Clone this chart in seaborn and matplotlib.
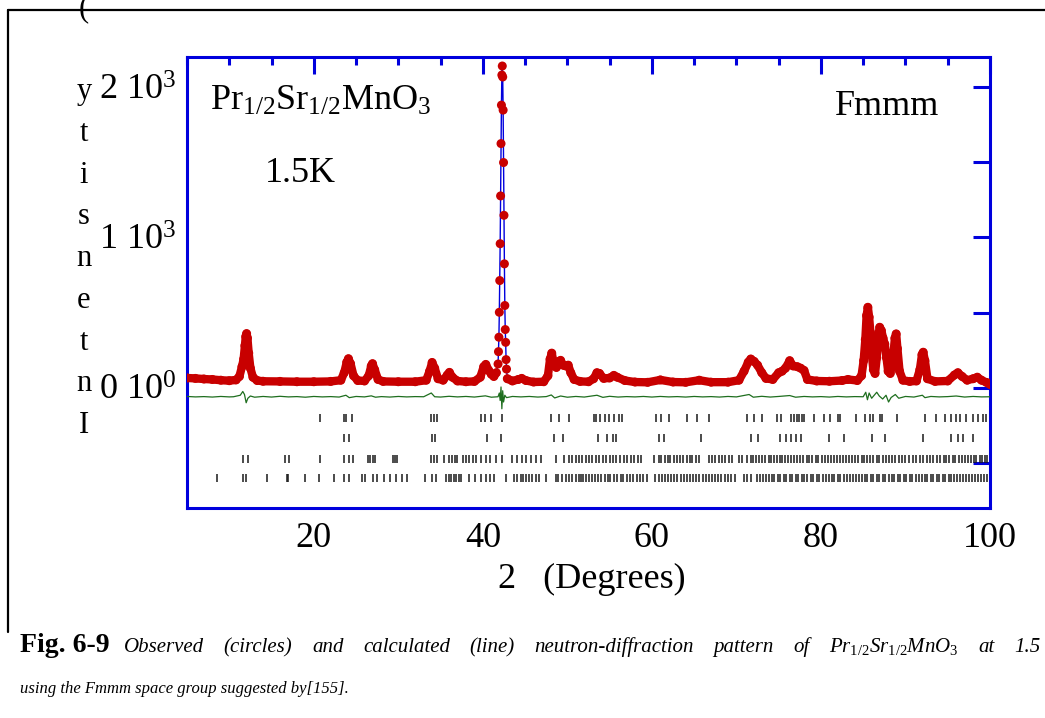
import numpy as np
import pandas as pd
import matplotlib
matplotlib.use('Agg')
import matplotlib.pyplot as plt
from matplotlib.lines import Line2D
from matplotlib.ticker import FixedLocator, FixedFormatter, MultipleLocator
import seaborn as sns

# observed pattern (2theta in degrees, counts)
two_theta = [5.0, 6.0, 7.0, 8.0, 9.0, 10.0, 10.8, 11.2, 11.5, 11.7, 11.85, 11.95, 12.05, 12.15, 12.3, 12.5,
             12.8, 13.3, 14.0, 16.0, 18.0, 20.0, 22.0, 23.2, 23.6, 23.9, 24.1, 24.35, 24.7, 25.2, 26.0, 26.5,
             26.8, 26.95, 27.2, 27.6, 28.2, 30.0, 32.0, 33.3, 33.7, 34.0, 34.3, 34.7, 35.3, 35.8, 36.05, 36.4,
             37.0, 38.0, 39.0, 39.7, 40.1, 40.35, 40.7, 41.0, 41.3, 41.6,
             41.80, 41.85, 41.90, 41.95, 42.00, 42.05, 42.10, 42.15, 42.20, 42.25, 42.30,
             42.35, 42.40, 42.45, 42.50, 42.55, 42.60, 42.65, 42.70, 42.75, 42.80,
             42.9, 43.5, 44.2, 44.6, 45.1, 46.0, 47.2, 47.7, 47.95, 48.15, 48.4, 48.7, 49.0, 49.2, 49.5, 49.8,
             50.1, 50.4, 50.8, 51.5, 52.5, 53.1, 53.5, 53.8, 54.3, 55.0, 55.5, 55.9, 56.8, 58.0, 59.5, 61.0,
             62.5, 64.0, 65.6, 67.0, 69.0, 70.3, 70.9, 71.4, 71.7, 72.1, 72.5, 73.0, 73.5, 74.3, 75.0, 75.4,
             75.8, 76.3, 76.7, 77.2, 77.6, 78.0, 78.4, 79.5, 81.0, 82.5, 83.2, 84.3, 84.8, 85.05, 85.25, 85.4,
             85.55, 85.7, 85.85, 86.0, 86.2, 86.4, 86.6, 86.8, 86.95, 87.15, 87.35, 87.55, 87.75, 87.95, 88.2,
             88.5, 88.75, 88.9, 89.05, 89.3, 89.7, 90.5, 91.3, 91.7, 91.95, 92.1, 92.3, 92.6, 93.5, 95.0, 95.8,
             96.2, 96.7, 97.3, 98.0, 98.5, 99.0, 99.6, 100.0]
observed = [65, 62, 58, 55, 50, 47, 52, 75, 140, 190, 280, 340, 360, 330, 230, 130,
            70, 48, 43, 42, 40, 40, 42, 50, 100, 170, 193, 160, 80, 48, 45, 80,
            145, 160, 120, 55, 42, 40, 40, 50, 110, 168, 130, 60, 50, 85, 102, 70,
            45, 40, 42, 70, 140, 155, 115, 90, 75, 100,
            158, 240, 336, 502, 713, 958, 1276, 1624, 1880, 2080, 2140,
            2067, 1847, 1498, 1147, 824, 547, 387, 302, 187, 124,
            60, 45, 55, 62, 48, 38, 40, 80, 190, 230, 160, 135, 175, 182, 150, 145,
            150, 100, 55, 42, 40, 60, 100, 95, 62, 65, 82, 70, 48, 38, 36, 52,
            38, 36, 50, 37, 37, 50, 110, 170, 191, 175, 150, 100, 62, 55, 100, 110,
            130, 180, 145, 140, 130, 115, 55, 45, 43, 48, 55, 48, 80, 180, 320, 480,
            535, 470, 370, 230, 120, 95, 200, 350, 402, 380, 330, 290, 200, 110, 95,
            180, 330, 358, 260, 110, 50, 42, 45, 120, 220, 236, 180, 60, 42, 45, 85,
            100, 75, 50, 60, 70, 50, 35, 22]
calculated = list(observed)

# difference curve (obs - calc, drawn shifted below the pattern)
diff_theta = [5, 6, 7, 8, 9, 10, 10.5, 11.3, 11.6, 11.8, 12.0, 12.2, 12.5, 13.0, 14, 15, 16, 17, 18, 19, 20,
              21, 22, 23, 23.8, 24.2, 25, 26, 26.8, 27.3, 28, 29, 30, 31, 32, 33, 33.9, 34.3, 35, 36, 37, 38,
              39, 40.3, 41, 41.8, 41.95, 42.05, 42.15, 42.25, 42.35, 42.45, 42.6, 42.8, 43.5, 44.5, 45.5, 46.5,
              47.5, 48.1, 48.5, 49.2, 50, 51, 52, 53.5, 54.2, 55, 56, 57, 58, 59, 60, 61, 62, 63, 64, 65, 66,
              67, 68, 69, 70, 71.5, 72.0, 73, 74, 75, 76.3, 77, 78, 79, 80, 81, 82, 83, 84, 85.0, 85.3, 85.5,
              85.7, 86.0, 86.3, 86.6, 86.9, 87.3, 87.7, 88.0, 88.3, 88.8, 89.2, 90, 91, 92.0, 92.3, 93, 94, 95,
              96, 97, 98, 99, 100]
difference = [-58, -61, -59, -62, -58, -61, -60, -50, -25, -45, -100, -70, -55, -63, -58, -62, -57, -61, -59, -63, -58,
              -61, -59, -62, -50, -66, -58, -61, -54, -63, -59, -62, -58, -61, -59, -60, -35, -60, -62, -57, -61, -58,
              -62, -54, -63, -60, -35, -85, 5, -140, -20, -95, -50, -66, -58, -61, -58, -62,
              -59, -48, -68, -55, -63, -58, -62, -50, -64, -57, -62, -59, -61, -58, -62, -58, -61, -59, -62, -58, -61,
              -59, -62, -58, -61, -45, -63, -57, -62, -58, -52, -63, -58, -61, -59, -62, -58, -61, -59, -60, -30, -80,
              -35, -70, -50, -30, -55, -75, -50, -95, -65, -45, -70, -58, -62, -50, -66, -58, -61, -59,
              -55, -62, -58, -61, -60]

# Bragg reflection positions, four rows
bragg_1 = [20.76, 23.53, 23.84, 24.52, 33.92, 34.19, 34.59, 39.84, 40.24, 40.91, 42.22, 48.10, 49.0, 50.19, 53.16,
           53.36, 53.87, 54.42, 54.94, 55.53, 56.12, 56.52, 60.47, 61.06, 62.05, 64.1, 65.33, 66.78, 71.25, 72.12,
           73.0, 74.81, 75.28, 76.47, 76.86, 77.18, 77.46, 77.74, 78.05, 79.16, 80.41, 81.13, 82.0, 82.31, 84.17,
           85.16, 85.75, 86.15, 86.94, 87.22, 89.03, 92.27, 93.65, 94.64, 95.43, 96.02, 96.42, 97.21, 98.0, 98.6,
           99.19, 99.58]
bragg_2 = [23.6, 24.2, 34.0, 34.3, 40.52, 42.1, 48.41, 49.48, 53.63, 54.74, 55.45, 55.72, 60.86, 61.38, 65.8,
           71.73, 72.52, 75.2, 75.87, 76.47, 77.06, 77.65, 81.0, 82.67, 86.03, 87.53, 92.07, 95.35, 96.22, 96.82,
           98.0]
bragg_3 = [11.67, 12.19, 16.61, 17.09, 20.76, 23.56, 24.2, 24.6, 26.41, 26.69, 26.96, 27.2, 29.33, 29.57, 29.85,
           33.9, 34.2, 34.6, 35.38, 36.05, 36.37, 36.68, 36.96, 37.63, 38.03, 38.42, 38.81, 39.22, 39.73, 40.32,
           40.79, 41.5, 42.22, 43.48, 44.07, 44.67, 45.14, 45.65, 46.24, 46.84, 48.61, 49.6, 50.19, 50.6, 50.99,
           51.38, 51.78, 52.17, 52.56, 52.96, 53.36, 53.8, 54.2, 54.6, 55.0, 55.4, 55.8, 56.2, 56.7, 57.0, 57.5,
           57.9, 58.4, 58.7, 60.3, 60.8, 61.1, 61.5, 61.9, 62.2, 62.6, 63.0, 63.3, 63.7, 64.1, 64.5, 64.8, 65.2,
           65.6, 66.7, 67.1, 67.5, 67.9, 68.3, 68.7, 69.1, 69.5, 70.3, 70.7, 71.3, 71.7, 72.0, 72.3, 72.7, 73.0,
           73.4, 73.8, 74.1, 74.4, 74.8, 75.1, 75.4, 75.8, 76.1, 76.5, 76.8, 77.2, 77.5, 77.9, 78.3, 78.6, 79.0,
           79.4, 79.7, 80.1, 80.5, 80.8, 81.2, 81.5, 81.9, 82.2, 82.6, 83.0, 83.3, 83.7, 84.0, 84.4, 84.8, 85.1,
           85.5, 85.8, 86.2, 86.6, 86.9, 87.3, 87.7, 88.0, 88.4, 88.8, 89.2, 89.6, 90.0, 90.4, 90.9, 91.3, 91.7,
           92.1, 92.5, 92.9, 93.3, 93.7, 94.1, 94.5, 94.8, 95.2, 95.6, 95.9, 96.3, 96.7, 97.0, 97.4, 97.7, 98.1,
           98.4, 98.8, 99.1, 99.4, 99.7]
bragg_4 = [8.52, 11.67, 11.94, 14.44, 16.81, 17.0, 18.99, 20.57, 22.34, 23.6, 24.2, 25.7, 26.1, 27.0, 27.48, 28.27,
           29.06, 29.77, 30.44, 31.04, 33.2, 34.0, 34.47, 35.66, 35.97, 36.29, 36.57, 36.84, 37.16, 37.44, 38.34,
           39.13, 39.73, 40.32, 40.79, 41.3, 42.69, 43.67, 44.07, 44.47, 44.74, 45.06, 45.45, 45.85, 46.24, 46.64,
           47.43, 48.61, 48.93, 49.4, 49.8, 50.19, 50.59, 50.99, 51.38, 51.58, 51.85, 52.17, 52.56, 52.96, 53.27,
           53.6, 54.0, 54.4, 54.8, 55.1, 55.5, 55.9, 56.3, 56.6, 57.0, 57.4, 57.8, 58.2, 58.6, 59.0, 59.4,
           60.4, 60.8, 61.2, 61.5, 61.9, 62.3, 62.6, 63.0, 63.4, 63.8, 64.1, 64.5, 64.9, 65.2, 65.6, 66.0, 66.4,
           66.7, 67.1, 67.5, 67.8, 68.2, 68.6, 69.0, 69.4, 69.8, 70.9, 71.3, 71.7, 72.4, 72.8, 73.1, 73.5, 73.8,
           74.2, 74.5, 74.9, 75.2, 75.6, 75.9, 76.3, 76.6, 77.0, 77.3, 77.7, 78.0, 78.4, 78.8, 79.1, 79.5, 79.8,
           80.2, 80.6, 80.9, 81.3, 81.6, 82.0, 82.3, 82.7, 83.1, 83.4, 83.8, 84.1, 84.5, 84.8, 85.2, 85.5, 85.9,
           86.2, 86.6, 86.9, 87.3, 87.6, 88.0, 88.4, 88.7, 89.1, 89.4, 89.8, 90.1, 90.5, 90.8, 91.2, 91.6, 91.9,
           92.3, 92.6, 93.0, 93.3, 93.7, 94.0, 94.4, 94.7, 95.1, 95.4, 95.8, 96.1, 96.5, 96.8, 97.2, 97.5, 97.9,
           98.2, 98.6, 98.9, 99.3, 99.6]
bragg_rows = [bragg_1, bragg_2, bragg_3, bragg_4]
bragg_levels = [-200, -333, -473, -600]

y_ticks = [-500, 0, 500, 1000, 1500, 2000]
y_labels = ['', '0 10$^0$', '', '1 10$^3$', '', '2 10$^3$']

RED = '#c80000'
BLUE = '#0000dd'
GREEN = '#1e6e1e'

sns.set_style('white')
plt.rcParams['font.family'] = ['Liberation Serif', 'DejaVu Serif']
plt.rcParams['mathtext.fontset'] = 'custom'
plt.rcParams['mathtext.rm'] = 'Liberation Serif'
plt.rcParams['mathtext.it'] = 'Liberation Serif:italic'
plt.rcParams['text.color'] = 'black'

W, H = 1045, 718
fig = plt.figure(figsize=(W / 100, H / 100), dpi=100)
ax = fig.add_axes([187 / W, 1 - 508 / H, (990 - 187) / W, (508 - 57) / H])

df = pd.DataFrame({'two_theta': two_theta, 'obs': observed, 'calc': calculated})
# thick band for the dense background points; the sharp main peak keeps only its dots
df['seg'] = np.where(df['two_theta'] < 41.75, 0, np.where(df['two_theta'] > 42.85, 1, -1))
band = df[df['seg'] >= 0]

sns.lineplot(data=df, x='two_theta', y='calc', color=BLUE, lw=1.0, ax=ax, zorder=2)
sns.lineplot(data=band, x='two_theta', y='obs', units='seg', estimator=None, color=RED, lw=6,
             solid_capstyle='round', solid_joinstyle='round', ax=ax, zorder=3)
sns.scatterplot(data=df, x='two_theta', y='obs', color=RED, s=42, edgecolor='none', ax=ax, zorder=4)
sns.lineplot(x=diff_theta, y=difference, color=GREEN, lw=0.9, ax=ax, zorder=3)

for pos, lev in zip(bragg_rows, bragg_levels):
    ax.vlines(pos, lev - 25, lev + 25, color='#1a1a1a', lw=1.1, zorder=2)

ax.set_xlim(5, 100)
ax.set_ylim(-800, 2200)
ax.xaxis.set_major_locator(MultipleLocator(20))
ax.xaxis.set_minor_locator(MultipleLocator(5))
ax.yaxis.set_major_locator(FixedLocator(y_ticks))
ax.yaxis.set_major_formatter(FixedFormatter(y_labels))
ax.tick_params(which='both', direction='in', color=BLUE, width=2.2, top=True, right=True,
               labelsize=26, labelcolor='black')
ax.tick_params(which='major', length=12)
ax.tick_params(which='minor', length=6)
ax.tick_params(axis='x', pad=10)
ax.tick_params(axis='y', pad=8)
for sp in ax.spines.values():
    sp.set_color(BLUE)
    sp.set_linewidth(2.2)
ax.set_xlabel('')
ax.set_ylabel('')

ax.text(210 / W, 1 - 110 / H, 'Pr$_{1/2}$Sr$_{1/2}$MnO$_3$', transform=fig.transFigure, fontsize=26, color='black')
ax.text(265 / W, 1 - 182 / H, '1.5K', transform=fig.transFigure, fontsize=26, color='black')
ax.text(835 / W, 1 - 115 / H, 'Fmmm', transform=fig.transFigure, fontsize=26, color='black')
fig.text(592 / W, 1 - 588 / H, '2   (Degrees)', ha='center', fontsize=26, color='black')

# vertical axis title, letters stacked bottom to top
for k, ch in enumerate('Intensity ('):
    fig.text(84 / W, 1 - (433 - k * 41.7) / H, ch, ha='center', va='baseline', fontsize=22, color='black')

# outer frame of the scanned figure
fig.add_artist(Line2D([8 / W, 8 / W], [1 - 10 / H, 1 - 632 / H], color='black', lw=1.6,
                      transform=fig.transFigure))
fig.add_artist(Line2D([8 / W, 1.0], [1 - 10 / H, 1 - 10 / H], color='black', lw=1.6,
                      transform=fig.transFigure))

# caption, first line justified between x=124 and x=1040
fig.text(20 / W, 1 - 652 / H, 'Fig. 6-9', fontsize=20, fontweight='bold', color='black')
words = ['Observed', '(circles)', 'and', 'calculated', '(line)', 'neutron-diffraction', 'pattern', 'of',
         '$Pr_{1/2}Sr_{1/2}MnO_3$', 'at', '1.5']
texts = [fig.text(0, 1 - 652 / H, w, fontsize=15, style='italic', color='black') for w in words]
fig.canvas.draw()
r = fig.canvas.get_renderer()
widths = [t.get_window_extent(r).width for t in texts]
gap = (1040 - 124 - sum(widths)) / (len(words) - 1)
x = 124
for t, w in zip(texts, widths):
    t.set_x(x / W)
    x += w + gap
fig.text(20 / W, 1 - 693 / H, 'using the Fmmm space group suggested by[155].', fontsize=12, style='italic',
         color='black')

fig.savefig('out.png', dpi=100)
